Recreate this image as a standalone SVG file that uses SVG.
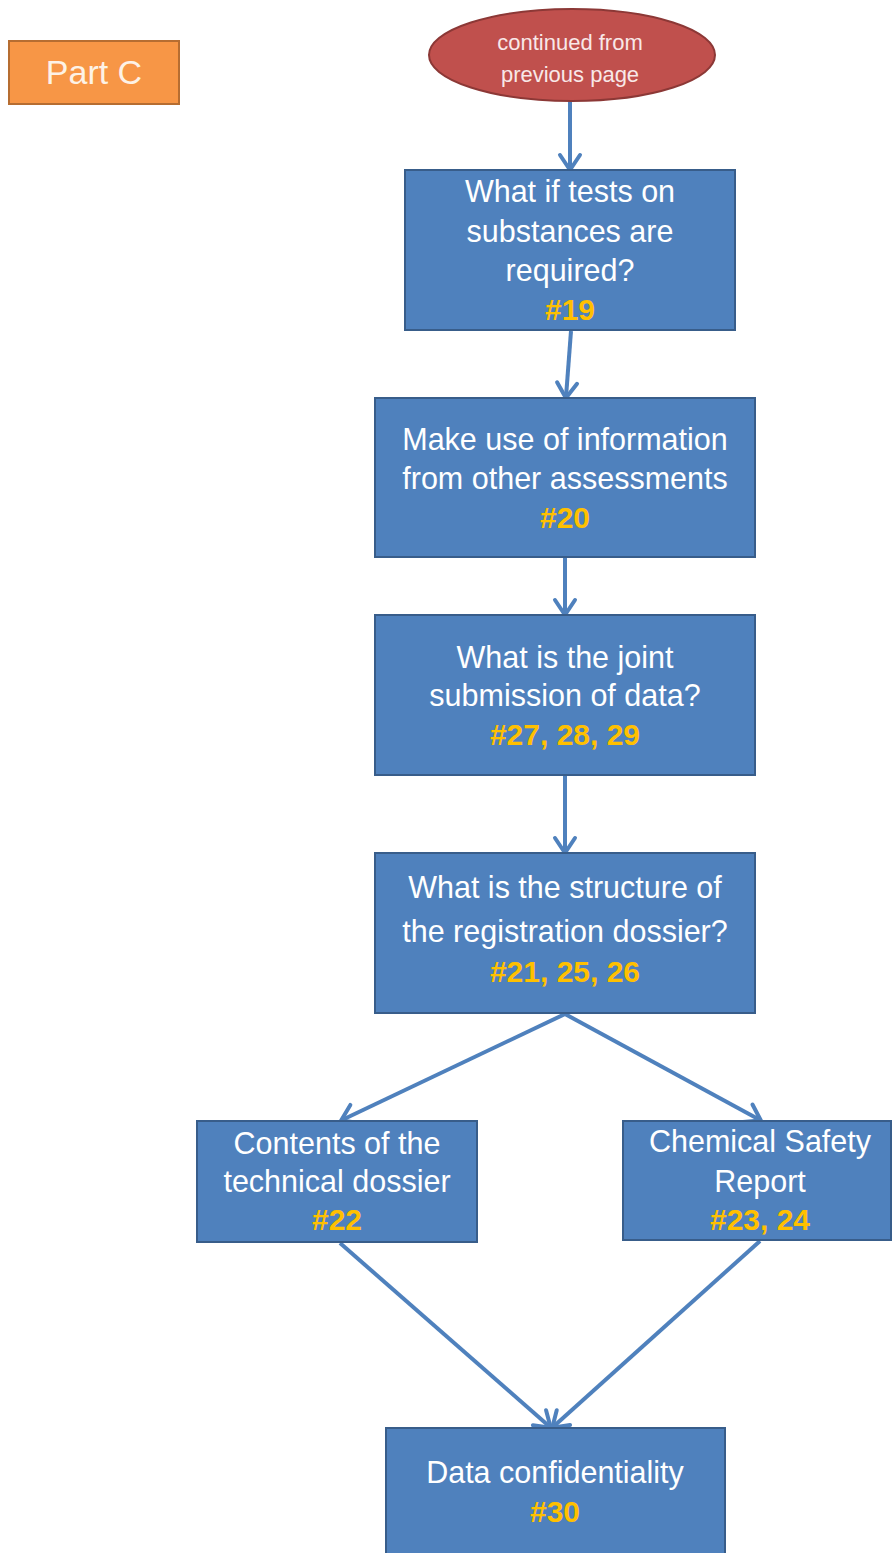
<svg xmlns="http://www.w3.org/2000/svg" width="893" height="1553" viewBox="0 0 893 1553">
<defs>
<style>
.box{fill:#4F81BD;stroke:#385D8A;stroke-width:2}
.t{font-family:"Liberation Sans",Arial,sans-serif;font-size:30.5px;fill:#FFFFFF;text-anchor:middle}
.n{font-family:"Liberation Sans",Arial,sans-serif;font-size:30px;fill:#FFC000;font-weight:bold;text-anchor:middle}
.c{fill:none;stroke:#4F81BD;stroke-width:4}
</style>
<marker id="ah" markerUnits="userSpaceOnUse" markerWidth="30" markerHeight="30" viewBox="-20 -15 30 30" refX="-1" refY="0" orient="auto">
<path d="M-15,-10 L0,0 L-15,10" fill="none" stroke="#4F81BD" stroke-width="4" stroke-linecap="round" stroke-linejoin="round"/>
</marker>
</defs>
<rect width="893" height="1553" fill="#FFFFFF"/>
<g id="partC">
<rect x="9" y="41" width="170" height="63" fill="#F79646" stroke="#B66D31" stroke-width="2"/>
<text x="94" y="84" style="font-family:'Liberation Sans',Arial,sans-serif;font-size:34px;fill:#FDF2E6;text-anchor:middle">Part C</text>
</g>
<g id="connectors">
<line class="c" x1="570" y1="101" x2="570" y2="169" marker-end="url(#ah)"/>
<line class="c" x1="571" y1="331" x2="566" y2="397" marker-end="url(#ah)"/>
<line class="c" x1="565" y1="558" x2="565" y2="614" marker-end="url(#ah)"/>
<line class="c" x1="565" y1="776" x2="565" y2="852" marker-end="url(#ah)"/>
<line class="c" x1="565" y1="1014" x2="342" y2="1120" marker-end="url(#ah)"/>
<line class="c" x1="565" y1="1014" x2="760" y2="1120" marker-end="url(#ah)"/>
<line class="c" x1="340" y1="1243" x2="550" y2="1427" marker-end="url(#ah)"/>
<line class="c" x1="760" y1="1241" x2="553" y2="1427" marker-end="url(#ah)"/>
</g>
<g id="start">
<ellipse cx="572" cy="55" rx="143" ry="46" fill="#C0504D" stroke="#8C3836" stroke-width="2"/>
<text x="570" y="50" style="font-family:'Liberation Sans',Arial,sans-serif;font-size:22px;fill:#F8E8E8;text-anchor:middle">continued from</text>
<text x="570" y="82" style="font-family:'Liberation Sans',Arial,sans-serif;font-size:22px;fill:#F8E8E8;text-anchor:middle">previous page</text>
</g>
<g id="n19">
<rect class="box" x="405" y="170" width="330" height="160"/>
<text class="t" x="570" y="202">What if tests on</text>
<text class="t" x="570" y="242">substances are</text>
<text class="t" x="570" y="281">required?</text>
<text class="n" x="570" y="320">#19</text>
</g>
<g id="n20">
<rect class="box" x="375" y="398" width="380" height="159"/>
<text class="t" x="565" y="450">Make use of information</text>
<text class="t" x="565" y="489">from other assessments</text>
<text class="n" x="565" y="528">#20</text>
</g>
<g id="n27">
<rect class="box" x="375" y="615" width="380" height="160"/>
<text class="t" x="565" y="668">What is the joint</text>
<text class="t" x="565" y="706">submission of data?</text>
<text class="n" x="565" y="745">#27, 28, 29</text>
</g>
<g id="n21">
<rect class="box" x="375" y="853" width="380" height="160"/>
<text class="t" x="565" y="898">What is the structure of</text>
<text class="t" x="565" y="942">the registration dossier?</text>
<text class="n" x="565" y="982">#21, 25, 26</text>
</g>
<g id="n22">
<rect class="box" x="197" y="1121" width="280" height="121"/>
<text class="t" x="337" y="1154">Contents of the</text>
<text class="t" x="337" y="1192">technical dossier</text>
<text class="n" x="337" y="1230">#22</text>
</g>
<g id="n23">
<rect class="box" x="623" y="1121" width="268" height="119"/>
<text class="t" x="760" y="1152">Chemical Safety</text>
<text class="t" x="760" y="1192">Report</text>
<text class="n" x="760" y="1230">#23, 24</text>
</g>
<g id="n30">
<rect class="box" x="386" y="1428" width="339" height="135"/>
<text class="t" x="555" y="1483">Data confidentiality</text>
<text class="n" x="555" y="1522">#30</text>
</g>
</svg>
